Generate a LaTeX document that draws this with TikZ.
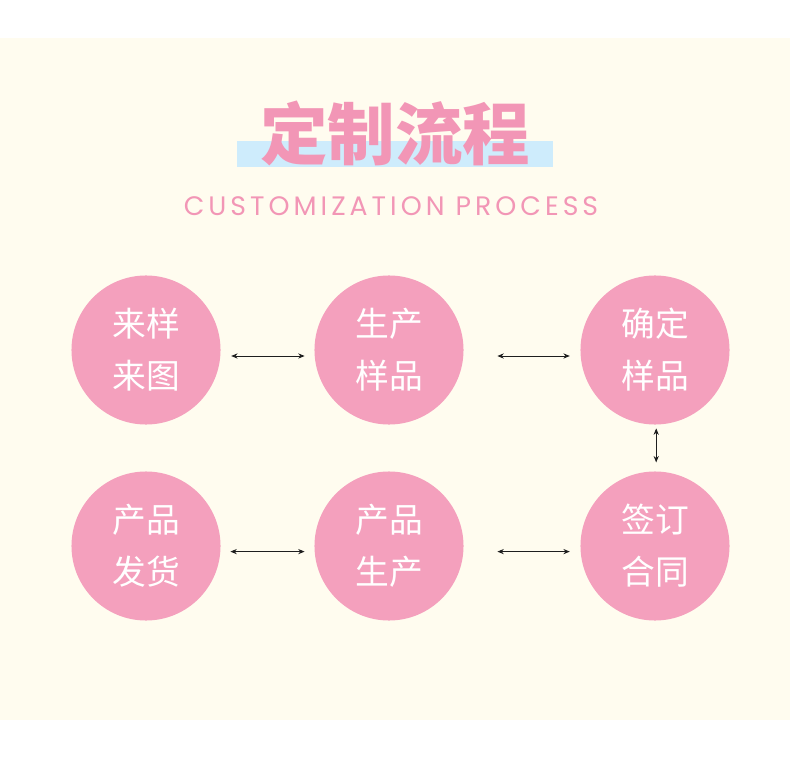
\documentclass[tikz,border=0pt]{standalone}
\usepackage{fontspec}
\usepackage{xcolor}
\usepackage{tikz}
\usetikzlibrary{arrows.meta, positioning, calc}
\newfontfamily\cjk{Noto Sans CJK SC}
\newfontfamily\engfont[LetterSpace=15]{Poppins}
\definecolor{mycream}{RGB}{255,252,239}
\definecolor{mypink}{RGB}{244,160,189}
\definecolor{titlepink}{RGB}{242,150,182}
\definecolor{myblue}{RGB}{206,236,252}
\definecolor{mydark}{RGB}{30,30,30}
\tikzset{
  step circle/.style={circle, fill=mypink, minimum size=3.725cm, inner sep=0pt,
    text=white, align=center, font=\cjk\fontsize{24}{37}\selectfont},
  arrow/.style={{Stealth[length=1.6mm, width=1.3mm]}-{Stealth[length=1.6mm, width=1.3mm]},
    line width=0.6pt, color=mydark}
}

\begin{document}
\begin{tikzpicture}[x=0.025cm, y=-0.025cm]
  % Background
  \useasboundingbox (0,0) rectangle (790,768);
  \fill[white] (0,0) rectangle (790,768);
  \fill[mycream] (0,38) rectangle (790,720);

  % Title
  \fill[myblue] (237,141) rectangle (553,167);
  \node[font=\cjk\bfseries\fontsize{48}{48}\selectfont, text=titlepink] (title) at (395,133) {定制流程};
  \node[font=\engfont\fontsize{19}{19}\selectfont, text=titlepink] (subtitle) at (391,206) {CUSTOMIZATION PROCESS};

  % Steps
  \node[step circle] (sample) at (146,350) {来样\\来图};
  \node[step circle] (proto)  at (389,350) {生产\\样品};
  \node[step circle] (confirm) at (655,350) {确定\\样品};
  \node[step circle] (contract) at (655,546) {签订\\合同};
  \node[step circle] (produce) at (389,546) {产品\\生产};
  \node[step circle] (ship)    at (146,546) {产品\\发货};

  % Connectors
  \draw[arrow, shorten <=0.26cm, shorten >=0.24cm] ([yshift=-0.15cm]sample.east) -- ([yshift=-0.15cm]proto.west);
  \draw[arrow, shorten <=0.84cm, shorten >=0.26cm] ([yshift=-0.15cm]proto.east) -- ([yshift=-0.15cm]confirm.west);
  \draw[arrow, shorten <=0.09cm, shorten >=0.22cm] ([xshift=0.03cm]confirm.south) -- ([xshift=0.03cm]contract.north);
  \draw[arrow, shorten <=0.84cm, shorten >=0.26cm] ([yshift=-0.14cm]produce.east) -- ([yshift=-0.14cm]contract.west);
  \draw[arrow, shorten <=0.24cm, shorten >=0.24cm] ([yshift=-0.14cm]ship.east) -- ([yshift=-0.14cm]produce.west);
\end{tikzpicture}
\end{document}
